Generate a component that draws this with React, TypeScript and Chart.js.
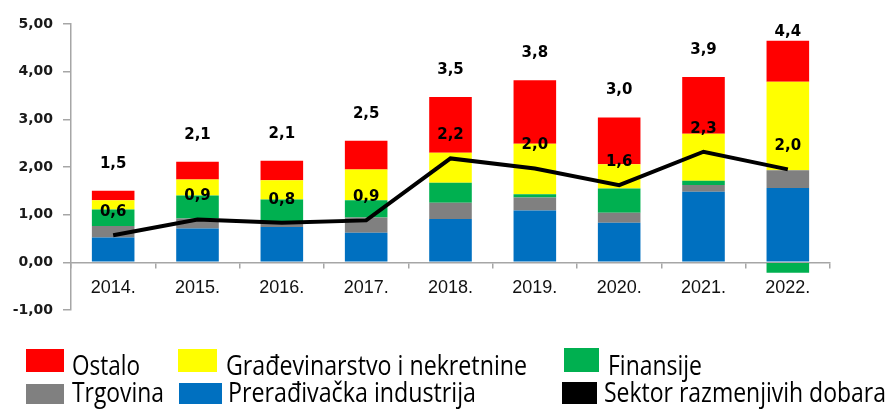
import React, { useEffect, useRef } from "react";
import { Chart, registerables } from "chart.js";

Chart.register(...registerables);

// ---- Data ----
const years = ["2014.", "2015.", "2016.", "2017.", "2018.", "2019.", "2020.", "2021.", "2022."];
const preradjivacka = [0.52, 0.71, 0.74, 0.62, 0.91, 1.09, 0.83, 1.48, 1.56];
const trgovina = [0.24, 0.21, 0.09, 0.32, 0.34, 0.27, 0.21, 0.14, 0.37];
const finansije = [0.35, 0.48, 0.49, 0.36, 0.42, 0.07, 0.51, 0.09, -0.22];
const gradjevinarstvo = [0.19, 0.34, 0.40, 0.65, 0.63, 1.06, 0.51, 0.99, 1.86];
const ostalo = [0.20, 0.37, 0.41, 0.60, 1.17, 1.33, 0.98, 1.19, 0.86];
const sektorRazmenjivih = [0.57, 0.90, 0.83, 0.88, 2.18, 1.97, 1.62, 2.32, 1.95];
const totalLabels = ["1,5", "2,1", "2,1", "2,5", "3,5", "3,8", "3,0", "3,9", "4,4"];
const lineLabels = ["0,6", "0,9", "0,8", "0,9", "2,2", "2,0", "1,6", "2,3", "2,0"];
const yMin = -1;
const yMax = 5;

const barSeries = [
  { label: "Prerađivačka industrija", data: preradjivacka, color: "#0070C0" },
  { label: "Trgovina", data: trgovina, color: "#808080" },
  { label: "Finansije", data: finansije, color: "#00B050" },
  { label: "Građevinarstvo i nekretnine", data: gradjevinarstvo, color: "#FFFF00" },
  { label: "Ostalo", data: ostalo, color: "#FF0000" },
];

const AXIS_GRAY = "#a6a6a6";

const valueLabelPlugin = {
  id: "valueLabels",
  afterDatasetsDraw(chart: any) {
    const ctx = chart.ctx;
    const xs = chart.scales.x;
    const ys = chart.scales.y;
    ctx.save();
    ctx.font = "bold 15px 'DejaVu Sans'";
    ctx.fillStyle = "#000";
    ctx.textAlign = "center";
    ctx.textBaseline = "middle";
    years.forEach((_, i) => {
      const px = xs.getPixelForValue(i);
      let pos = 0;
      barSeries.forEach((s) => {
        if (s.data[i] > 0) pos += s.data[i];
      });
      const topPx = ys.getPixelForValue(pos);
      ctx.fillText(totalLabels[i], px, Math.max(topPx - 27, 32));
      const lp = ys.getPixelForValue(sektorRazmenjivih[i]);
      ctx.fillText(lineLabels[i], px, lp - 23);
    });
    ctx.restore();
  },
};

const LEGEND_FONT_FAMILY = "'Open Sans'";
const LEGEND_FONT_SIZE = 27;

const legendItems = [
  { label: "Ostalo", color: "#FF0000", rx: 26, rw: 38, ry: 349, rh: 23, tx: 72, tw: 68, base: 375 },
  { label: "Građevinarstvo i nekretnine", color: "#FFFF00", rx: 178, rw: 39, ry: 349, rh: 23, tx: 226, tw: 301, base: 375 },
  { label: "Finansije", color: "#00B050", rx: 564, rw: 35, ry: 348, rh: 24, tx: 608, tw: 94, base: 375 },
  { label: "Trgovina", color: "#808080", rx: 26, rw: 38, ry: 384, rh: 20, tx: 72, tw: 92, base: 402 },
  { label: "Prerađivačka industrija", color: "#0070C0", rx: 179, rw: 43, ry: 383, rh: 21, tx: 228, tw: 248, base: 402 },
  { label: "Sektor razmenjivih dobara", color: "#000000", rx: 562, rw: 35, ry: 382, rh: 22, tx: 604, tw: 282, base: 402 },
];

function Legend() {
  const ref = useRef<HTMLCanvasElement | null>(null);
  useEffect(() => {
    const c = ref.current;
    if (!c) return;
    const ctx = c.getContext("2d");
    if (!ctx) return;
    ctx.clearRect(0, 0, c.width, c.height);
    const offY = 330;
    legendItems.forEach((it) => {
      ctx.fillStyle = it.color;
      ctx.fillRect(it.rx, it.ry - offY, it.rw, it.rh);
      ctx.font = `${LEGEND_FONT_SIZE}px ${LEGEND_FONT_FAMILY}`;
      ctx.textBaseline = "alphabetic";
      ctx.textAlign = "left";
      const w = ctx.measureText(it.label).width;
      const sx = it.tw / w;
      ctx.save();
      ctx.translate(it.tx, it.base - offY);
      ctx.scale(sx, 1);
      ctx.fillStyle = "#000";
      ctx.fillText(it.label, 0, 0);
      ctx.restore();
    });
  }, []);
  return (
    <canvas
      ref={ref}
      width={888}
      height={80}
      style={{ position: "absolute", left: 0, top: 330, width: 888, height: 80, display: "block" }}
    />
  );
}

export default function App() {
  const canvasRef = useRef<HTMLCanvasElement | null>(null);

  useEffect(() => {
    const canvas = canvasRef.current;
    if (!canvas) return;
    const datasets: any[] = barSeries.map((s) => ({
      type: "bar",
      label: s.label,
      data: s.data,
      backgroundColor: s.color,
      borderWidth: 0,
      stack: "bars",
      order: 1,
      barPercentage: 1,
      categoryPercentage: 0.505,
    }));
    datasets.push({
      type: "line",
      label: "Sektor razmenjivih dobara",
      data: sektorRazmenjivih,
      borderColor: "#000",
      backgroundColor: "#000",
      borderWidth: 4,
      pointRadius: 0,
      tension: 0,
      stack: "line",
      order: 0,
    });

    const chart = new Chart(canvas, {
      type: "bar",
      data: { labels: years, datasets },
      options: {
        animation: false,
        responsive: false,
        devicePixelRatio: 1,
        layout: { padding: { top: 24, right: 58, bottom: 20, left: 0 } },
        plugins: {
          legend: { display: false },
          tooltip: { enabled: false },
        },
        scales: {
          x: {
            type: "category",
            stacked: true,
            offset: true,
            position: { y: 0 } as any,
            grid: {
              offset: true,
              drawOnChartArea: false,
              drawTicks: true,
              tickLength: 5,
              color: AXIS_GRAY,
              lineWidth: 1.5,
            },
            border: { display: true, color: AXIS_GRAY, width: 1.5 },
            ticks: {
              color: "#111",
              font: { family: "'Liberation Sans', Arial, sans-serif", size: 18 },
              padding: 10,
              maxRotation: 0,
            },
          },
          y: {
            stacked: true,
            min: yMin,
            max: yMax,
            afterFit: (scale: any) => {
              scale.width = 71;
            },
            grid: {
              drawOnChartArea: false,
              drawTicks: true,
              tickLength: 8,
              color: AXIS_GRAY,
              lineWidth: 1.5,
            },
            border: { display: true, color: AXIS_GRAY, width: 1.5 },
            ticks: {
              stepSize: 1,
              color: "#1a1a1a",
              padding: 10,
              font: { family: "'DejaVu Sans'", size: 14, weight: "bold" },
              callback: (v: any) => Number(v).toFixed(2).replace(".", ","),
            },
          },
        },
      },
      plugins: [valueLabelPlugin],
    });
    return () => chart.destroy();
  }, []);

  return (
    <div style={{ position: "absolute", left: 0, top: 0, width: 888, height: 410, background: "#fff" }}>
      <canvas ref={canvasRef} width={888} height={330} style={{ display: "block", width: 888, height: 330 }} />
      <Legend />
    </div>
  );
}
